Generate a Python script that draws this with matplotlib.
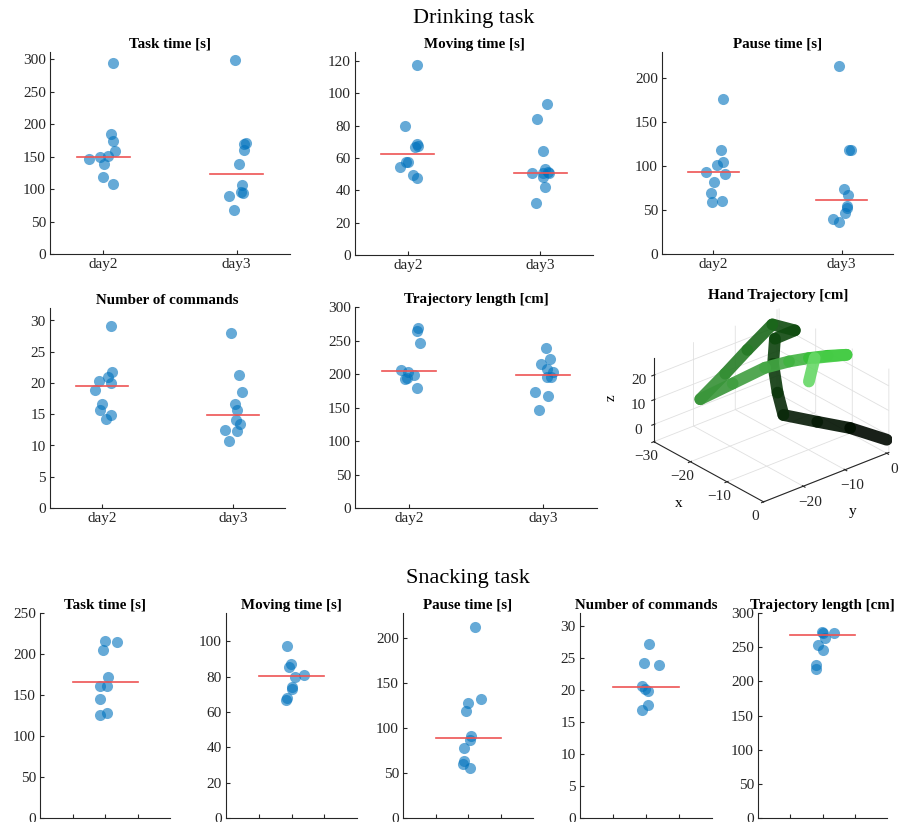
import matplotlib
matplotlib.use('Agg')
import matplotlib.pyplot as plt
import numpy as np
from matplotlib.colors import to_rgb
from mpl_toolkits.mplot3d.art3d import Line3DCollection

plt.rcParams['font.family'] = ['Liberation Serif', 'DejaVu Serif']
plt.rcParams['font.size'] = 10

# ---------------- data ----------------
days = ['day2', 'day3']

# Drinking task
d_task_day2 = [294, 185, 173.6, 158, 150.5, 149.5, 147, 139, 118, 108.5]
d_task_day2_jit = [0.075, 0.057, 0.07, 0.087, 0.037, -0.025, -0.104, 0.005, -0.005, 0.07]
d_task_day3 = [298, 171, 169, 160, 138, 107, 95, 94.5, 89, 67.6]
d_task_day3_jit = [-0.015, 0.07, 0.057, 0.052, 0.02, 0.04, 0.032, 0.045, -0.06, -0.022]
d_task_median = [150, 123]

d_move_day2 = [117.5, 79.8, 68.7, 67.4, 66.6, 57.7, 57.3, 54.2, 49.5, 47.4]
d_move_day2_jit = [0.067, -0.02, 0.067, 0.075, 0.055, -0.012, 0.0, -0.057, 0.035, 0.067]
d_move_day3 = [93.4, 83.9, 64.5, 53.2, 51.5, 50.9, 50.5, 50.5, 48.5, 42.3, 32]
d_move_day3_jit = [0.055, -0.02, 0.02, 0.037, 0.062, 0.07, 0.025, -0.062, 0.025, 0.037, -0.03]
d_move_median = [62.2, 51.0]

d_pause_day2 = [176.4, 118.6, 105.3, 100.8, 93.2, 91.3, 81.7, 70, 60.8, 59.7]
d_pause_day2_jit = [0.075, 0.057, 0.075, 0.031, -0.06, 0.088, 0.005, -0.015, 0.065, -0.008]
d_pause_day3 = [214.4, 118.6, 118, 73.8, 67.3, 54.8, 52, 46.4, 39.5, 36.5]
d_pause_day3_jit = [-0.018, 0.07, 0.06, 0.018, 0.052, 0.039, 0.044, 0.026, -0.065, -0.018]
d_pause_median = [92.8, 61.0]

d_cmd_day2 = [29.05, 21.7, 20.9, 20.3, 20.0, 18.85, 16.7, 15.7, 14.8, 14.2]
d_cmd_day2_jit = [0.07, 0.077, 0.044, -0.026, 0.07, -0.059, 0.0, -0.015, 0.064, 0.031]
d_cmd_day3 = [28.0, 21.3, 18.6, 16.7, 15.7, 14.0, 13.4, 12.4, 12.3, 10.7]
d_cmd_day3_jit = [-0.015, 0.051, 0.069, 0.018, 0.036, 0.026, 0.056, -0.059, 0.036, -0.026]
d_cmd_median = [19.45, 14.87]

d_traj_day2 = [268.5, 263.5, 246.5, 206.5, 203.5, 198.5, 194, 192.5, 178.5]
d_traj_day2_jit = [0.067, 0.06, 0.085, -0.057, -0.007, 0.042, -0.015, -0.025, 0.06]
d_traj_day3 = [238.5, 222.5, 215, 207.5, 202.5, 195, 195, 173.5, 167.5, 146]
d_traj_day3_jit = [0.02, 0.05, -0.02, 0.03, 0.07, 0.03, 0.055, -0.062, 0.037, -0.03]
d_traj_median = [205, 199]

# Hand trajectory waypoints [cm]
hand_x = [0, -6, -11, -16.5, -19, -22.5, -26, -24, -29, -28.4, -27.6, -27, -25, -23, -21, -19, -15, -11, -18, -19]
hand_y = [0, -3.5, -7, -10.3, -9.5, -7.5, -4, -1, -2, -8.5, -14.5, -21, -15, -9, -5, -2, -1, 0, -1.5, -2]
hand_z = [-1.5, 0.7, 1.5, 2, 8.5, 16, 21, 24, 23, 17.5, 12.5, 7, 11, 15, 16.5, 17.5, 21, 24, 18, 8]

# Snacking task
s_task = [215.4, 214.2, 205.3, 171.5, 161.4, 160.6, 145, 128, 126]
s_task_jit = [0.0, 0.38, -0.07, 0.1, -0.15, 0.05, -0.15, 0.05, -0.15]
s_task_median = 166

s_move = [97.2, 86.9, 85.7, 81.2, 79.7, 74.1, 73.2, 67.9, 67]
s_move_jit = [-0.13, -0.03, -0.07, 0.38, 0.1, 0.03, 0.0, -0.15, -0.17]
s_move_median = 80.5

s_pause = [212, 132, 127.9, 118.9, 91.6, 87.1, 77.4, 63.6, 59.8, 55.3]
s_pause_jit = [0.2, 0.39, 0.0, -0.07, 0.1, 0.05, -0.13, -0.12, -0.15, 0.05]
s_pause_median = 89

s_cmd = [27.1, 24.15, 23.9, 20.6, 20.2, 19.8, 17.6, 16.85]
s_cmd_jit = [0.1, -0.05, 0.38, -0.12, -0.02, 0.07, 0.05, -0.12]
s_cmd_median = 20.5

s_traj = [271.7, 270.7, 270.7, 263.4, 253.7, 246.3, 224.4, 218.5]
s_traj_jit = [-0.02, 0.02, 0.36, 0.08, -0.15, 0.0, -0.19, -0.19]
s_traj_median = 267.3

# ---------------- styling / layout ----------------
W, H = 899, 822
fig = plt.figure(figsize=(W / 100, H / 100), dpi=100)

BLUE = (0.0, 0.447, 0.741)
RED = (0.93, 0.33, 0.33)
AXC = (0.15, 0.15, 0.15)
TICK_FS = 11
TITLE_FS = 10.8


def rect(l, t, r, b):
    return [l / W, 1 - b / H, (r - l) / W, (b - t) / H]


def style(ax):
    for s in ['top', 'right']:
        ax.spines[s].set_visible(False)
    for s in ['left', 'bottom']:
        ax.spines[s].set_color(AXC)
        ax.spines[s].set_linewidth(0.8)
    ax.tick_params(direction='in', length=3, width=0.8, colors=AXC,
                   labelsize=TICK_FS, pad=3)


def top_panel(r, title, groups, jits, meds, ylim, yticks):
    ax = fig.add_axes(r)
    centers = [1, 2]
    for c, v, j, m in zip(centers, groups, jits, meds):
        ax.scatter(c + np.array(j), v, s=64, color=BLUE, alpha=0.6,
                   linewidths=0, zorder=2, clip_on=False)
        ax.plot([c - 0.2, c + 0.2], [m, m], color=RED, lw=1.2, zorder=3)
    ax.set_xlim(0.6, 2.4)
    ax.set_xticks(centers)
    ax.set_xticklabels(days)
    ax.set_ylim(*ylim)
    ax.set_yticks(yticks)
    ax.set_title(title, fontweight='bold', fontsize=TITLE_FS, pad=3)
    style(ax)
    return ax


def bottom_panel(r, title, vals, jit, med, ylim, yticks):
    ax = fig.add_axes(r)
    ax.scatter(2 + np.array(jit), vals, s=64, color=BLUE, alpha=0.6,
               linewidths=0, zorder=2, clip_on=False)
    ax.plot([1, 3], [med, med], color=RED, lw=1.2, zorder=3)
    ax.set_xlim(0, 4)
    ax.set_xticks([1, 2, 3])
    ax.set_xticklabels([])
    ax.set_ylim(*ylim)
    ax.set_yticks(yticks)
    ax.set_title(title, fontweight='bold', fontsize=TITLE_FS, pad=3)
    style(ax)
    return ax


# Drinking task row 1
top_panel(rect(50, 52, 290, 254), 'Task time [s]', [d_task_day2, d_task_day3],
          [d_task_day2_jit, d_task_day3_jit], d_task_median, (0, 311), range(0, 301, 50))
top_panel(rect(355, 52, 593, 255), 'Moving time [s]', [d_move_day2, d_move_day3],
          [d_move_day2_jit, d_move_day3_jit], d_move_median, (0, 125.5), range(0, 121, 20))
top_panel(rect(662, 52, 893, 254), 'Pause time [s]', [d_pause_day2, d_pause_day3],
          [d_pause_day2_jit, d_pause_day3_jit], d_pause_median, (0, 230), range(0, 201, 50))
# row 2
top_panel(rect(50, 308, 285, 508), 'Number of commands', [d_cmd_day2, d_cmd_day3],
          [d_cmd_day2_jit, d_cmd_day3_jit], d_cmd_median, (0, 32), range(0, 31, 5))
top_panel(rect(355, 307, 597, 508), 'Trajectory length [cm]', [d_traj_day2, d_traj_day3],
          [d_traj_day2_jit, d_traj_day3_jit], d_traj_median, (0, 300), range(0, 301, 50))

# 3D hand trajectory
ax3 = fig.add_axes(rect(626, 285, 910, 532), projection='3d', proj_type='ortho')
ax3.view_init(elev=27.7, azim=-40.3)
ax3.set_box_aspect((1.72, 1.665, 0.96))
pts = np.column_stack([hand_x, hand_y, hand_z])
segs = np.stack([pts[:-1], pts[1:]], axis=1)
wp_colors = ['#000000', '#000800', '#001000', '#061a06', '#0a2a0a', '#0c380c',
             '#0d420d', '#0e480e', '#0f4c0f', '#1a681a', '#267c26', '#359035',
             '#3a963a', '#409e40', '#44a844', '#40b440', '#38c038', '#30c830',
             '#48cc48', '#66d866']
seg_colors = [to_rgb(c) for c in wp_colors[1:]]
lc = Line3DCollection(segs, colors=seg_colors, linewidths=8.5, capstyle='round',
                      joinstyle='round', alpha=0.9)
ax3.add_collection3d(lc)
ax3.set_xlim(-30, 0)
ax3.set_ylim(-29.5, 0.5)
ax3.set_zlim(-7, 27)
ax3.set_xticks([-30, -20, -10, 0])
ax3.set_yticks([-20, -10, 0])
ax3.set_zticks([0, 10, 20])
ax3.zaxis.set_ticks_position('lower')
ax3.zaxis.set_label_position('lower')
ax3.set_xlabel('x', labelpad=1, fontsize=TICK_FS)
ax3.set_ylabel('y', labelpad=1, fontsize=TICK_FS)
ax3.zaxis.set_rotate_label(False)
ax3.set_zlabel('z', labelpad=-4, fontsize=TICK_FS, rotation=90)
ax3.tick_params(labelsize=TICK_FS, pad=-2, colors=AXC)
for axis in (ax3.xaxis, ax3.yaxis, ax3.zaxis):
    axis.set_pane_color((1, 1, 1, 0))
    axis.pane.set_edgecolor((0.85, 0.85, 0.85))
    axis._axinfo['grid']['color'] = (0.88, 0.88, 0.88)
    axis._axinfo['grid']['linewidth'] = 0.6
    axis.line.set_color(AXC)
    axis.line.set_linewidth(0.8)
fig.text(778 / W, 1 - 295 / H, 'Hand Trajectory [cm]', ha='center', va='center',
         fontweight='bold', fontsize=TITLE_FS)

# Snacking task row
bottom_panel(rect(40, 613, 170, 818), 'Task time [s]', s_task, s_task_jit, s_task_median,
             (0, 250), range(0, 251, 50))
bottom_panel(rect(226, 613, 357, 818), 'Moving time [s]', s_move, s_move_jit, s_move_median,
             (0, 116), range(0, 101, 20))
bottom_panel(rect(403, 613, 533, 818), 'Pause time [s]', s_pause, s_pause_jit, s_pause_median,
             (0, 228), range(0, 201, 50))
bottom_panel(rect(580, 613, 712, 818), 'Number of commands', s_cmd, s_cmd_jit, s_cmd_median,
             (0, 32), range(0, 31, 5))
bottom_panel(rect(758, 613, 887, 818), 'Trajectory length [cm]', s_traj, s_traj_jit, s_traj_median,
             (0, 300), range(0, 301, 50))

fig.text(474 / W, 1 - 19 / H, 'Drinking task', ha='center', va='center', fontsize=16)
fig.text(468 / W, 1 - 578 / H, 'Snacking task', ha='center', va='center', fontsize=16)

fig.savefig('out.png', dpi=100)
